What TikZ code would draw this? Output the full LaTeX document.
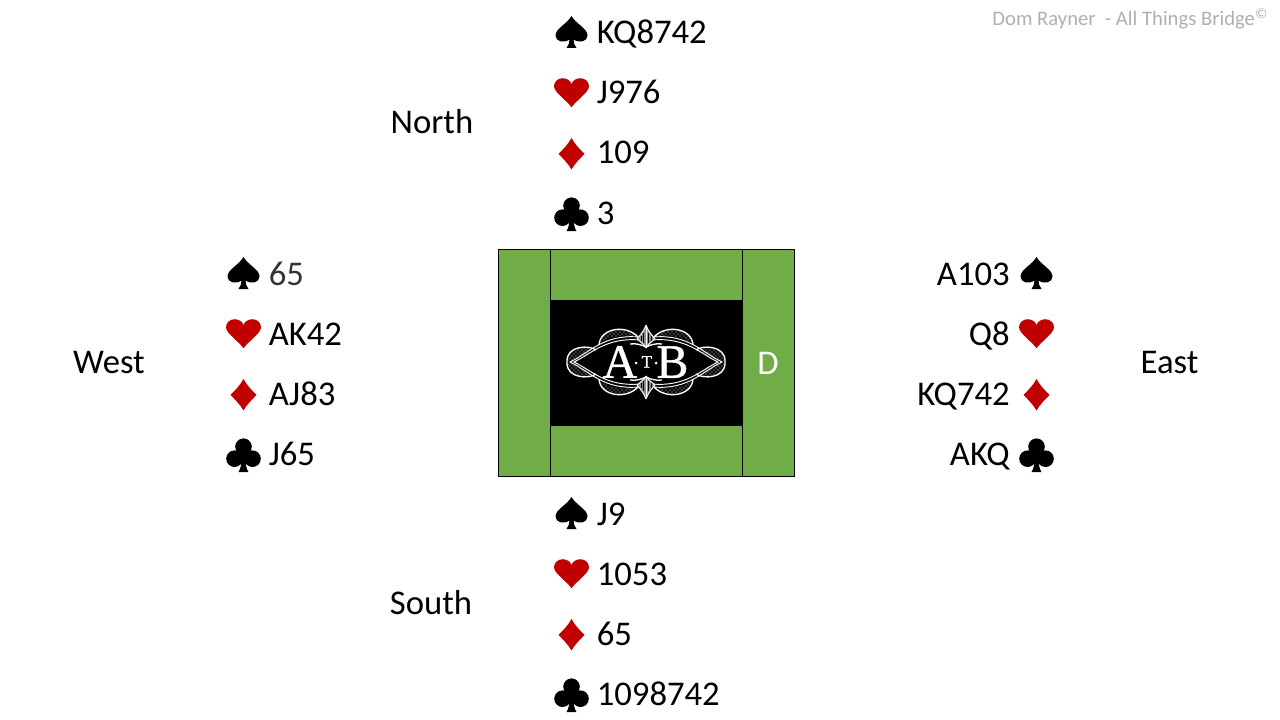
\documentclass[tikz,border=0pt]{standalone}
\usepackage{fontspec}
\setmainfont{Carlito}
\newfontfamily\logofont[FakeBold=0.8]{Liberation Serif}
\usetikzlibrary{positioning,patterns}
\definecolor{tablegreen}{RGB}{112,173,71}
\definecolor{suitred}{RGB}{192,0,0}
\definecolor{creditgray}{RGB}{175,175,175}
\tikzset{
  suit/.style={inner sep=0pt, minimum width=40pt, minimum height=45.15pt},
  spade/.style={suit, path picture={\fill[black, shift={(path picture bounding box.center)}]
    (0,-15.5) .. controls (-4,-8) and (-16,-3) .. (-16,4) .. controls (-16,10) and (-8,12) .. (-2,8)
    .. controls (-2,11) and (-3,14) .. (-5,16.5) -- (5,16.5) .. controls (3,14) and (2,11) .. (2,8)
    .. controls (8,12) and (16,10) .. (16,4) .. controls (16,-3) and (4,-8) .. (0,-15.5) -- cycle;}},
  heart/.style={suit, path picture={\fill[suitred, shift={(path picture bounding box.center)}]
    (0,15) .. controls (-5,8) and (-17.5,0) .. (-17.5,-6) .. controls (-17.5,-11) and (-13,-14) .. (-9,-14)
    .. controls (-5,-14) and (-1,-12) .. (0,-8) .. controls (1,-12) and (5,-14) .. (9,-14)
    .. controls (13,-14) and (17.5,-11) .. (17.5,-6) .. controls (17.5,0) and (5,8) .. (0,15) -- cycle;}},
  diamondsuit/.style={suit, path picture={\fill[suitred, shift={(path picture bounding box.center)}]
    (0,-15) .. controls (3,-9) and (9,-3) .. (13,1) .. controls (9,5) and (3,11) .. (0,16.5)
    .. controls (-3,11) and (-9,5) .. (-13,1) .. controls (-9,-3) and (-3,-9) .. (0,-15) -- cycle;}},
  club/.style={suit, path picture={\fill[black, shift={(path picture bounding box.center)}]
    (0,-8) circle (8.3) (-9,4) circle (8.3) (9,4) circle (8.3) (0,1) circle (5);
    \fill[black, shift={(path picture bounding box.center)}]
    (-2,4) .. controls (-2,10) and (-3,14) .. (-5,17.5) -- (5,17.5) .. controls (3,14) and (2,10) .. (2,4) -- cycle;}},
  holding/.style={inner sep=0pt, font=\fontsize{26}{26}\selectfont, text height=18pt, text depth=0pt},
  seat/.style={inner sep=0pt, font=\fontsize{26}{26}\selectfont},
  logoline/.style={draw=white, line width=0.7pt},
}
\begin{document}
\begin{tikzpicture}[x=0.75pt, y=-0.75pt, node distance=0pt]
  \useasboundingbox (0,0) rectangle (1280,720);

  % table
  \node[draw, fill=tablegreen, line width=0.75pt, minimum width=222pt, minimum height=170pt, inner sep=0pt] (table) at (646.5,362.75) {};
  \node[fill=black, minimum width=144pt, minimum height=94.5pt, inner sep=0pt] (centre) at (646.5,363) {};
  \draw[line width=0.75pt] (table.north -| centre.west) -- (table.south -| centre.west);
  \draw[line width=0.75pt] (table.north -| centre.east) -- (table.south -| centre.east);
  \node[seat, text=white] (dealer) at (768,363) {D};

  % logo
  \begin{scope}[shift={(646,362)}]
    \foreach \sx/\sy in {1/1,-1/1,1/-1,-1/-1}{
      \begin{scope}[xscale=\sx, yscale=\sy]
        \path[pattern=crosshatch dots, pattern color=white] (72,0) -- (50,-12) .. controls (56,-17) and (80,-17) .. (79,0) -- cycle;
        \draw[logoline, line width=1pt] (50,-12) .. controls (56,-17) and (80,-17) .. (79,0);
        \draw[logoline] (72,0) .. controls (55,-8) and (40,-25) .. (6,-22);
        \draw[logoline] (76,0) .. controls (57,-9) and (42,-28) .. (8,-25);
        \path[pattern=crosshatch dots, pattern color=white] (47,-18) .. controls (44,-34) and (20,-37) .. (8,-25) .. controls (24,-28) and (38,-26) .. (47,-18) -- cycle;
        \draw[logoline, line width=1pt] (47,-17) .. controls (46,-34) and (20,-38) .. (8,-25);
        \fill[white!55!black] (0,-37) .. controls (2,-31) and (6,-27) .. (9,-23) .. controls (6,-20) and (3,-19) .. (0,-14) -- cycle;
        \draw[logoline] (0,-37) .. controls (2,-31) and (6,-27) .. (9,-23) .. controls (6,-20) and (3,-19) .. (0,-14);
        \draw[logoline] (0,-36) -- (0,-14);
        \draw[black, line width=0.4pt] (2.5,-29) -- (2.5,-19) (5,-26) -- (5,-21);
        \draw[logoline, line width=1pt] (0,-15) .. controls (4,-17) and (10,-19) .. (16,-18);
      \end{scope}
    }
    \node[text=white, inner sep=0pt, font=\logofont\fontsize{36}{36}\selectfont] (logo) at (-0.5,0)
      {A\hspace{3.2pt}\raisebox{7.7pt}{\fontsize{13}{13}\selectfont T}\hspace{3.2pt}B};
    \fill[white] (-10,1) circle (1.5) (10,1) circle (1.5);
  \end{scope}

  % north
  \node[spade] (ns) at (571.5,31.5) {};
  \node[heart, below=of ns] (nh) {};
  \node[diamondsuit, below=of nh] (nd) {};
  \node[club, below=of nd] (nc) {};
  \node[holding, anchor=west] (nst) at (596.5,32) {KQ8742};
  \node[holding, anchor=west] (nht) at (596.5,92) {J976};
  \node[holding, anchor=west] (ndt) at (596.5,152) {109};
  \node[holding, anchor=west] (nct) at (596.5,212) {3};
  \node[seat] (north) at (432,122) {North};

  % west
  \node[spade] (ws) at (243.5,272.5) {};
  \node[heart, below=of ws] (wh) {};
  \node[diamondsuit, below=of wh] (wd) {};
  \node[club, below=of wd] (wc) {};
  \node[holding, anchor=west, text=black!80] (wst) at (268.5,273) {65};
  \node[holding, anchor=west] (wht) at (268.5,333) {AK42};
  \node[holding, anchor=west] (wdt) at (268.5,393) {AJ83};
  \node[holding, anchor=west] (wct) at (268.5,453) {J65};
  \node[seat] (west) at (109,363) {West};

  % east
  \node[spade] (es) at (1036.5,272.5) {};
  \node[heart, below=of es] (eh) {};
  \node[diamondsuit, below=of eh] (ed) {};
  \node[club, below=of ed] (ec) {};
  \node[holding, anchor=east] (est) at (1010,273) {A103};
  \node[holding, anchor=east] (eht) at (1010,333) {Q8};
  \node[holding, anchor=east] (edt) at (1010,393) {KQ742};
  \node[holding, anchor=east] (ect) at (1010,453) {AKQ};
  \node[seat] (east) at (1169.5,363) {East};

  % south
  \node[spade] (ss) at (571.5,512.5) {};
  \node[heart, below=of ss] (sh) {};
  \node[diamondsuit, below=of sh] (sd) {};
  \node[club, below=of sd] (sc) {};
  \node[holding, anchor=west] (sst) at (596.5,513) {J9};
  \node[holding, anchor=west] (sht) at (596.5,573) {1053};
  \node[holding, anchor=west] (sdt) at (596.5,633) {65};
  \node[holding, anchor=west] (sct) at (596.5,693) {1098742};
  \node[seat] (south) at (431,603) {South};

  \node[text=creditgray, inner sep=0pt, anchor=east, font=\fontsize{15.5}{15.5}\selectfont] (credit) at (1268,19) {Dom Rayner\ \ - All Things Bridge\textsuperscript{©}};
\end{tikzpicture}
\end{document}
